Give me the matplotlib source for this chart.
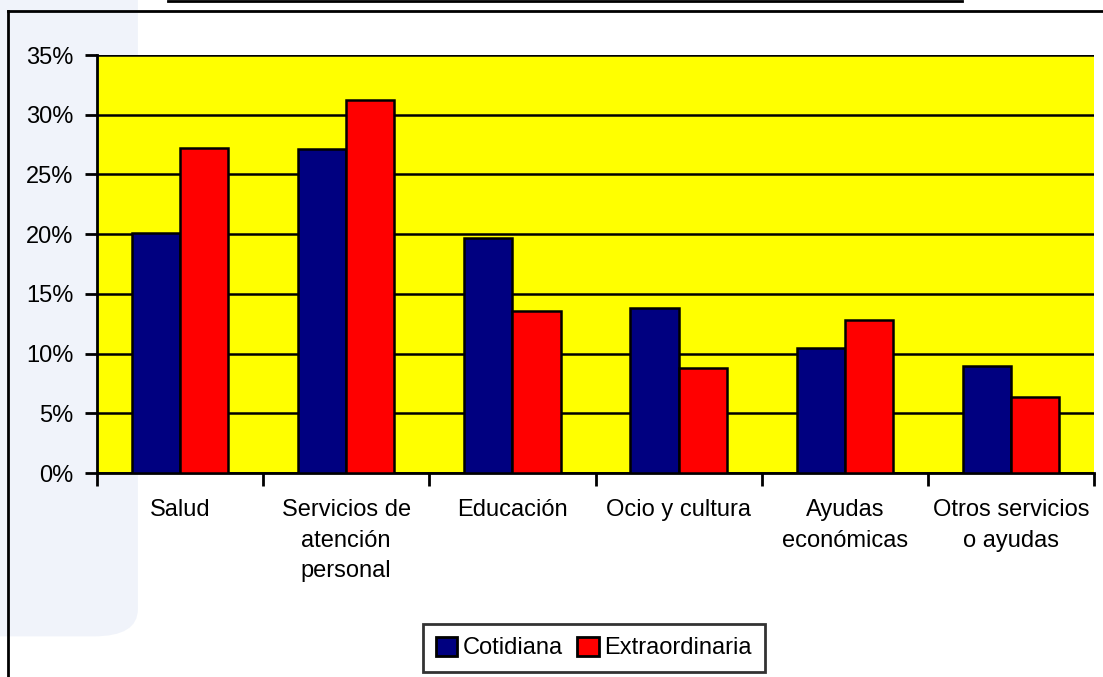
import numpy as np
import matplotlib
matplotlib.use("Agg")
from matplotlib import pyplot as plt
from matplotlib.lines import Line2D
from matplotlib.patches import FancyBboxPatch

categorias = ["Salud", "Servicios de\natención\npersonal", "Educación",
              "Ocio y cultura", "Ayudas\neconómicas", "Otros servicios\no ayudas"]
cotidiana = [20.1, 27.1, 19.7, 13.8, 10.5, 9.0]
extraordinaria = [27.2, 31.2, 13.6, 8.8, 12.8, 6.4]
series_nombres = ["Cotidiana", "Extraordinaria"]
yticks = [0, 5, 10, 15, 20, 25, 30, 35]

plt.rcParams['font.family'] = ['Liberation Sans Narrow', 'Liberation Sans', 'DejaVu Sans']
plt.rcParams['font.size'] = 17

fig = plt.figure(figsize=(11.03, 6.77), dpi=100)
fig.patch.set_facecolor("white")

# faint watermark on the left
fig.patches.append(FancyBboxPatch((-0.05, 0.06), 0.175, 1.0, boxstyle="round,pad=0,rounding_size=0.04",
                                  transform=fig.transFigure, facecolor="#f0f3fa", edgecolor="none", zorder=0))

# outer frame (left and top) and title underline
fig.add_artist(Line2D([8/1103, 8/1103], [0, 1 - 11/677], color="black", lw=2, transform=fig.transFigure))
fig.add_artist(Line2D([8/1103, 1], [1 - 11/677, 1 - 11/677], color="black", lw=2, transform=fig.transFigure))
fig.add_artist(Line2D([168/1103, 962/1103], [1 - 1/677, 1 - 1/677], color="black", lw=2, transform=fig.transFigure))

ax = fig.add_axes([97/1103, 1 - 473/677, (1094 - 97)/1103, (473 - 55)/677])
ax.set_zorder(2)
ax.set_facecolor("#ffff00")

x = np.arange(len(categorias))
w = 0.29
ax.bar(x - w/2, cotidiana, w, color="#000080", edgecolor="black", linewidth=1.8, label=series_nombres[0], zorder=3)
ax.bar(x + w/2, extraordinaria, w, color="#ff0000", edgecolor="black", linewidth=1.8, label=series_nombres[1], zorder=3)

ax.set_xlim(-0.5, len(categorias) - 0.5)
ax.set_ylim(0, 35)
ax.set_yticks(yticks)
ax.set_yticklabels([f"{v}%" for v in yticks])
ax.yaxis.grid(True, color="black", linewidth=1.8, zorder=1)
ax.set_axisbelow(True)

ax.set_xticks(np.arange(len(categorias) + 1) - 0.5)
ax.set_xticklabels([])
ax.set_xticks(x, minor=True)
ax.set_xticklabels(categorias, minor=True, linespacing=1.5)
ax.tick_params(axis="x", which="major", length=9, width=2, direction="out")
ax.tick_params(axis="x", which="minor", length=0, pad=19)
ax.tick_params(axis="y", length=9, width=2, direction="out", pad=8)

for s in ["right", "top"]:
    ax.spines[s].set_visible(False)
for s in ["left", "bottom"]:
    ax.spines[s].set_linewidth(2)

leg = fig.legend(loc="center", bbox_to_anchor=(594/1103, 1 - 648/677), ncol=2, frameon=True,
                 fancybox=False, edgecolor="black", handlelength=0.9, handleheight=0.9,
                 handletextpad=0.25, columnspacing=0.6, borderpad=0.55, fontsize=17)
leg.get_frame().set_linewidth(2)
for h in leg.legend_handles:
    h.set_linewidth(2)

plt.savefig("out.png", dpi=100)
